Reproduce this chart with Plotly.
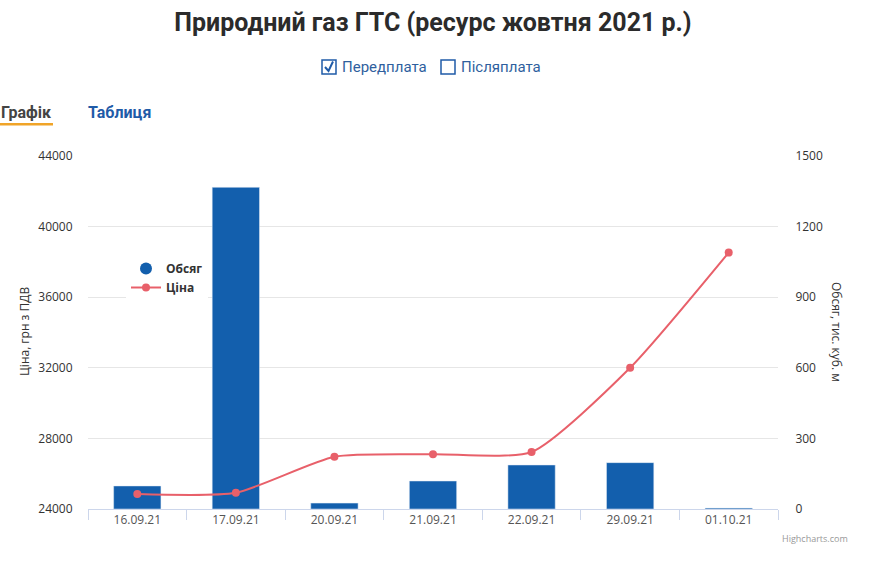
import plotly.graph_objects as go

# Data
dates = ["16.09.21", "17.09.21", "20.09.21", "21.09.21", "22.09.21", "29.09.21", "01.10.21"]
price = [24850, 24920, 26960, 27100, 27230, 32000, 38530]   # Ціна, грн з ПДВ
volume = [98, 1367, 25, 119, 187, 197, 4]                   # Обсяг, тис. куб. м
price_ticks = [24000, 28000, 32000, 36000, 40000, 44000]
volume_ticks = [0, 300, 600, 900, 1200, 1500]

bar_color = "#135fad"
line_color = "#e8606a"
head = "Roboto, Noto Sans, sans-serif"
base = "Open Sans, Noto Sans, sans-serif"

# plot area in pixels (for placing page decorations)
L, R, T, B = 88, 778, 156, 509
W, H = 885, 566


def px(x):
    return (x - L) / (R - L)


def py(y):
    return (B - y) / (B - T)


fig = go.Figure()

fig.add_trace(go.Bar(
    x=dates, y=volume, name="Обсяг", yaxis="y",
    marker_color=bar_color, showlegend=False,
    hoverinfo="x+y",
))
fig.add_trace(go.Scatter(
    x=dates, y=price, name="Ціна", yaxis="y2",
    mode="lines+markers", line=dict(color=line_color, width=2, shape="spline", smoothing=0.6),
    marker=dict(size=8, color=line_color), showlegend=False,
))
# legend entries (Highcharts style symbols)
fig.add_trace(go.Scatter(
    x=[None], y=[None], name="Обсяг", mode="markers",
    marker=dict(size=12, color=bar_color, symbol="circle"),
))
fig.add_trace(go.Scatter(
    x=[None], y=[None], name="Ціна", mode="lines+markers",
    line=dict(color=line_color, width=2), marker=dict(size=8, color=line_color),
))

fig.update_layout(
    width=W, height=H,
    margin=dict(l=L, r=W - R, t=T, b=H - B),
    paper_bgcolor="white", plot_bgcolor="white",
    font=dict(family=base, size=12, color="#333333"),
    bargap=0.52,
    showlegend=True,
    legend=dict(
        x=px(126), y=py(254), xanchor="left", yanchor="top",
        bgcolor="white", font=dict(family=base, size=12, color="#333333", weight="bold"),
        itemsizing="trace", itemwidth=30, tracegroupgap=0,
    ),
    title=dict(
        text="<b>Природний газ ГТС (ресурс жовтня 2021 р.)</b>",
        x=0.5, xref="paper", xanchor="center", y=1 - 22 / H, yanchor="middle",
        font=dict(family=head, size=25, color="#2b2b2b"),
    ),
    xaxis=dict(
        type="category", showgrid=False, showline=True, linecolor="#ccd6eb",
        ticks="outside", tickson="boundaries", ticklen=10, tickcolor="#ccd6eb",
        tickfont=dict(size=12, color="#555555"), fixedrange=True,
    ),
    yaxis=dict(
        side="right", range=[0, 1500], tickvals=volume_ticks, tickformat="d",
        showgrid=True, gridcolor="#e6e6e6", zeroline=False,
        ticks="outside", ticklen=14, tickcolor="rgba(0,0,0,0)",
        tickfont=dict(size=12, color="#333333"),
    ),
    yaxis2=dict(
        side="left", overlaying="y", range=[24000, 44000], tickvals=price_ticks, tickformat="d",
        showgrid=False, zeroline=False,
        ticks="outside", ticklen=12, tickcolor="rgba(0,0,0,0)",
        tickfont=dict(size=12, color="#333333"),
    ),
)

ann = [
    dict(text="Ціна, грн з ПДВ", x=px(24), y=py(332), textangle=-90,
         font=dict(size=12, color="#333333")),
    dict(text="Обсяг, тис. куб. м", x=px(837), y=py(332), textangle=90,
         font=dict(size=12, color="#333333")),
    dict(text="Передплата", x=px(340), y=py(67), xanchor="left",
         font=dict(family=head, size=15, color="#2f5f9e")),
    dict(text="Післяплата", x=px(459), y=py(67), xanchor="left",
         font=dict(family=head, size=15, color="#2f5f9e")),
    dict(text="<b>Графік</b>", x=px(-1), y=py(112), xanchor="left",
         font=dict(family=head, size=16, color="#444444")),
    dict(text="<b>Таблиця</b>", x=px(86), y=py(112), xanchor="left",
         font=dict(family=head, size=16, color="#1f5ba8")),
    dict(text="Highcharts.com", x=px(850), y=py(538), xanchor="right",
         font=dict(size=9, color="#999999")),
]
for a in ann:
    a.update(xref="paper", yref="paper", showarrow=False)
    a.setdefault("xanchor", "center")
    a.setdefault("yanchor", "middle")
fig.update_layout(annotations=ann)

shapes = [
    # checkboxes
    dict(type="rect", x0=px(322), x1=px(336), y0=py(60), y1=py(74),
         line=dict(color="#1f5ba8", width=1.5), fillcolor="white"),
    dict(type="path", path=f"M {px(325)} {py(67)} L {px(328.5)} {py(71)} L {px(333)} {py(61.5)}",
         line=dict(color="#1f5ba8", width=2)),
    dict(type="rect", x0=px(441), x1=px(455), y0=py(60), y1=py(74),
         line=dict(color="#1f5ba8", width=1.5), fillcolor="white"),
    # active tab underline
    dict(type="rect", x0=px(0), x1=px(53), y0=py(123), y1=py(125.5),
         line=dict(width=0), fillcolor="#f0a428"),
]
for s in shapes:
    s.update(xref="paper", yref="paper")
fig.update_layout(shapes=shapes)

fig.write_html("out.html", config={"displayModeBar": False},
               post_script="document.body.style.margin='0';")
